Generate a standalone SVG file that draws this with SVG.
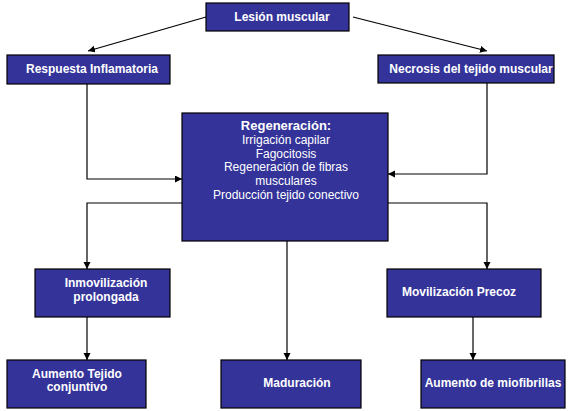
<svg xmlns="http://www.w3.org/2000/svg" width="571" height="411" viewBox="0 0 571 411">
<style>
.box{fill:#333399;stroke:#000;stroke-width:1.2}
.t{font-family:"Liberation Sans",Arial,sans-serif;font-size:12px;fill:#fff;text-anchor:middle}
.b{font-weight:bold}
.c{fill:none;stroke:#000;stroke-width:1.2}
</style>
<defs>
<marker id="ah" markerUnits="userSpaceOnUse" markerWidth="8" markerHeight="8" refX="7" refY="3.5" orient="auto">
<path d="M0,0 L7,3.5 L0,7 z" fill="#000"/>
</marker>
</defs>
<rect width="571" height="411" fill="#fff"/>
<g id="connectors">
<line class="c" x1="206" y1="17" x2="88" y2="51" marker-end="url(#ah)"/>
<line class="c" x1="353" y1="17" x2="487" y2="51" marker-end="url(#ah)"/>
<polyline class="c" points="87,84 87,179 182,179" marker-end="url(#ah)"/>
<polyline class="c" points="487,83 487,174 388,174" marker-end="url(#ah)"/>
<polyline class="c" points="182,203 87,203 87,269" marker-end="url(#ah)"/>
<polyline class="c" points="388,203 487,203 487,269" marker-end="url(#ah)"/>
<line class="c" x1="287" y1="241" x2="287" y2="360" marker-end="url(#ah)"/>
<line class="c" x1="87" y1="317" x2="87" y2="360" marker-end="url(#ah)"/>
<line class="c" x1="473" y1="317" x2="473" y2="360" marker-end="url(#ah)"/>
</g>
<g id="lesion">
<rect class="box" x="206" y="3" width="143" height="28"/>
<text class="t b" x="282" y="21">Lesión muscular</text>
</g>
<g id="respuesta">
<rect class="box" x="7" y="55" width="163" height="29"/>
<text class="t b" x="92" y="73">Respuesta Inflamatoria</text>
</g>
<g id="necrosis">
<rect class="box" x="378" y="55" width="176" height="28"/>
<text class="t b" x="471" y="73">Necrosis del tejido muscular</text>
</g>
<g id="regeneracion">
<rect class="box" x="182" y="113" width="206" height="128"/>
<text class="t b" x="286" y="130" style="font-size:13px">Regeneración:</text>
<text class="t" x="286" y="144">Irrigación capilar</text>
<text class="t" x="286" y="158">Fagocitosis</text>
<text class="t" x="286" y="171">Regeneración de fibras</text>
<text class="t" x="286" y="185">musculares</text>
<text class="t" x="286" y="199">Producción tejido conectivo</text>
</g>
<g id="inmovilizacion">
<rect class="box" x="35" y="269" width="135" height="48"/>
<text class="t b" x="106" y="287">Inmovilización</text>
<text class="t b" x="106" y="301">prolongada</text>
</g>
<g id="movilizacion">
<rect class="box" x="387" y="269" width="154" height="48"/>
<text class="t b" x="459" y="296">Movilización Precoz</text>
</g>
<g id="aumento-tejido">
<rect class="box" x="7" y="360" width="139" height="48"/>
<text class="t b" x="77" y="378">Aumento Tejido</text>
<text class="t b" x="77" y="391">conjuntivo</text>
</g>
<g id="maduracion">
<rect class="box" x="221" y="360" width="140" height="48"/>
<text class="t b" x="297" y="387">Maduración</text>
</g>
<g id="aumento-miofibrillas">
<rect class="box" x="421" y="360" width="144" height="48"/>
<text class="t b" x="493" y="387">Aumento de miofibrillas</text>
</g>
</svg>
